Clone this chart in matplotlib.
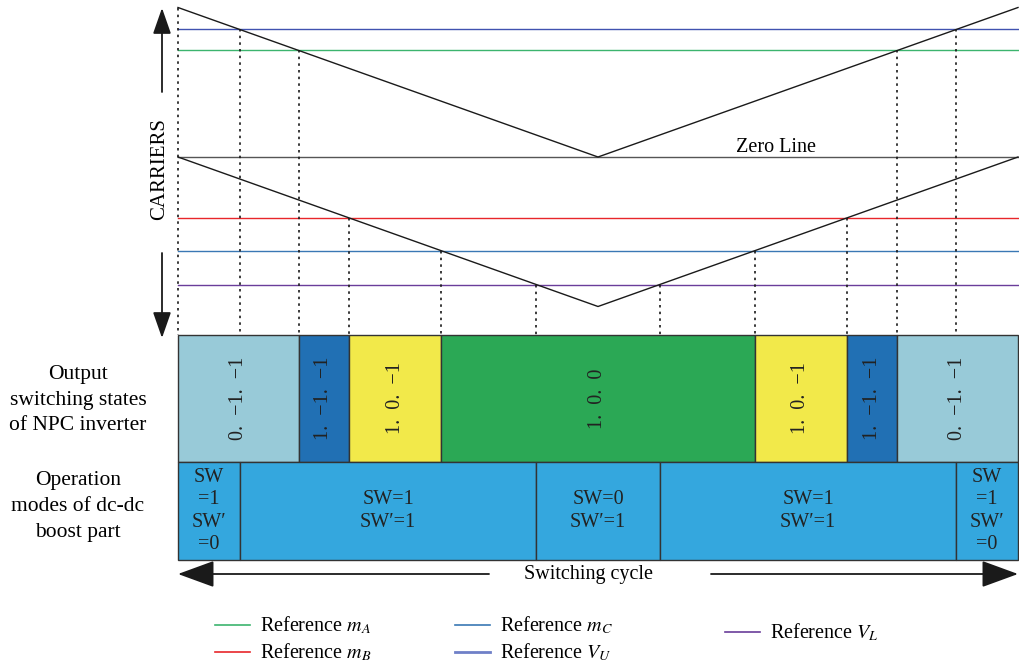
import numpy as np
import matplotlib
matplotlib.use('Agg')
import matplotlib.pyplot as plt
from matplotlib.patches import Rectangle

plt.rcParams['font.family'] = ['Liberation Serif', 'DejaVu Serif']
plt.rcParams['mathtext.fontset'] = 'stix'

# carriers over one switching cycle (t from 0 to 1)
cyc_t = [0.0, 0.5, 1.0]
upper_carrier = [1.0, 0.0, 1.0]
lower_carrier = [0.0, -1.0, 0.0]

# reference levels in carrier units
ref_keys = ['VU', 'mA', 'mB', 'mC', 'VL']
ref_levels = [0.853, 0.713, -0.407, -0.627, -0.853]
ref_colors = ['#4052b0', '#3cb46e', '#e8262a', '#3a78b4', '#6a3d9a']
ref_labels = ['Reference $V_U$', 'Reference $m_A$', 'Reference $m_B$',
              'Reference $m_C$', 'Reference $V_L$']

# NPC output states, between the crossings of m_A, m_B, m_C
state_labels = ['0.  −1.  −1', '1.  −1.  −1', '1.  0.  −1', '1.  0.  0',
                '1.  0.  −1', '1.  −1.  −1', '0.  −1.  −1']
state_colors = ['#98cad8', '#2170b4', '#f2e94a', '#2ba855',
                '#f2e94a', '#2170b4', '#98cad8']

# dc-dc boost modes, between the crossings of V_U, V_L
mode_labels = ['SW\n=1\nSW′\n=0', 'SW=1\nSW′=1', 'SW=0\nSW′=1',
               'SW=1\nSW′=1', 'SW\n=1\nSW′\n=0']
mode_color = '#34a7de'

# page layout (pixels -> data units)
W, H = 1019, 669
X0, PX = 178, 840
Y0, PY = 157, 149.5


def xpx(p):
    return (p - X0) / PX


def ypx(p):
    return (Y0 - p) / PY


def crossings(ts, cs, v):
    out = []
    for i in range(len(ts) - 1):
        c0, c1 = cs[i], cs[i + 1]
        if c0 != c1 and min(c0, c1) <= v <= max(c0, c1):
            out.append(ts[i] + (v - c0) / (c1 - c0) * (ts[i + 1] - ts[i]))
    return out


def cross_of(key):
    v = ref_levels[ref_keys.index(key)]
    return crossings(cyc_t, upper_carrier if v >= 0 else lower_carrier, v)


fig = plt.figure(figsize=(W / 100, H / 100), dpi=100)
ax = fig.add_axes([0, 0, 1, 1])
ax.set_xlim(xpx(0), xpx(W))
ax.set_ylim(ypx(H), ypx(0))
ax.axis('off')

row1_top, row1_bot, row2_bot = ypx(335), ypx(462), ypx(560)

# zero line, references, carriers
ax.plot([0, 1], [0, 0], color='#555555', lw=1.0)
for v, c in zip(ref_levels, ref_colors):
    ax.plot([0, 1], [v, v], color=c, lw=1.0)
ax.plot(cyc_t, upper_carrier, color='#1a1a1a', lw=1.0)
ax.plot(cyc_t, lower_carrier, color='#1a1a1a', lw=1.0)
ax.text(xpx(776), ypx(148), 'Zero Line', fontsize=14.5, ha='center', va='center')

# dotted projections
ax.plot([0, 0], [upper_carrier[0], row1_top], color='#1a1a1a', ls=(0, (1.5, 2.5)), lw=1.2)
for k, v in zip(ref_keys, ref_levels):
    for t in cross_of(k):
        ax.plot([t, t], [v, row1_top], color='#1a1a1a', ls=(0, (1.5, 2.5)), lw=1.2)

# switching state boxes
sb = [0.0] + sorted(cross_of('mA') + cross_of('mB') + cross_of('mC')) + [1.0]
for i, (lab, col) in enumerate(zip(state_labels, state_colors)):
    ax.add_patch(Rectangle((sb[i], row1_bot), sb[i + 1] - sb[i], row1_top - row1_bot,
                           fc=col, ec='#333333', lw=1.0))
    ax.text((sb[i] + sb[i + 1]) / 2, (row1_top + row1_bot) / 2, lab, rotation=90,
            fontsize=14.5, ha='center', va='center', color='#222222')

# boost mode boxes
mb = [0.0] + sorted(cross_of('VU') + cross_of('VL')) + [1.0]
for i, lab in enumerate(mode_labels):
    ax.add_patch(Rectangle((mb[i], row2_bot), mb[i + 1] - mb[i], row1_bot - row2_bot,
                           fc=mode_color, ec='#333333', lw=1.0))
    ax.text((mb[i] + mb[i + 1]) / 2, (row1_bot + row2_bot) / 2, lab,
            fontsize=14.5, ha='center', va='center', linespacing=1.25, color='#222222')

# left side labels
ax.text(xpx(160), ypx(169), 'CARRIERS', rotation=90, fontsize=15,
        ha='center', va='center')
arr = dict(arrowstyle='-|>,head_length=0.8,head_width=0.28', mutation_scale=20,
           fc='#1a1a1a', ec='#1a1a1a', lw=1.3, shrinkA=0, shrinkB=0)
ax.annotate('', xy=(xpx(162), ypx(8)), xytext=(xpx(162), ypx(92)), arrowprops=arr)
ax.annotate('', xy=(xpx(162), ypx(338)), xytext=(xpx(162), ypx(253)), arrowprops=arr)
ax.text(xpx(78), ypx(400), 'Output\nswitching states\nof NPC inverter',
        fontsize=15.5, ha='center', va='center', linespacing=1.5)
ax.text(xpx(78), ypx(506), 'Operation\nmodes of dc-dc\nboost part',
        fontsize=15.5, ha='center', va='center', linespacing=1.5)

# switching cycle arrow
arr2 = dict(arrowstyle='-|>,head_length=1.15,head_width=0.42', mutation_scale=20,
            fc='#1a1a1a', ec='#1a1a1a', lw=1.3, shrinkA=0, shrinkB=0)
ax.annotate('', xy=(0, ypx(574)), xytext=(xpx(489), ypx(574)), arrowprops=arr2)
ax.annotate('', xy=(1, ypx(574)), xytext=(xpx(711), ypx(574)), arrowprops=arr2)
ax.text(xpx(588), ypx(575), 'Switching cycle', fontsize=14.5, ha='center', va='center')

# legend
leg_order = ['mA', 'mB', 'mC', 'VU', 'VL']
leg_pos = [(215, 625), (215, 652), (455, 625), (455, 652), (725, 632)]
for k, (lx, ly) in zip(leg_order, leg_pos):
    i = ref_keys.index(k)
    lw = 2.0 if k == 'VU' else 1.2
    col = '#6f80c8' if k == 'VU' else ref_colors[i]
    ax.plot([xpx(lx), xpx(lx + 35)], [ypx(ly), ypx(ly)], color=col, lw=lw)
    ax.text(xpx(lx + 45), ypx(ly), ref_labels[i], fontsize=14.5, ha='left', va='center')

fig.savefig('out.png', dpi=100)
